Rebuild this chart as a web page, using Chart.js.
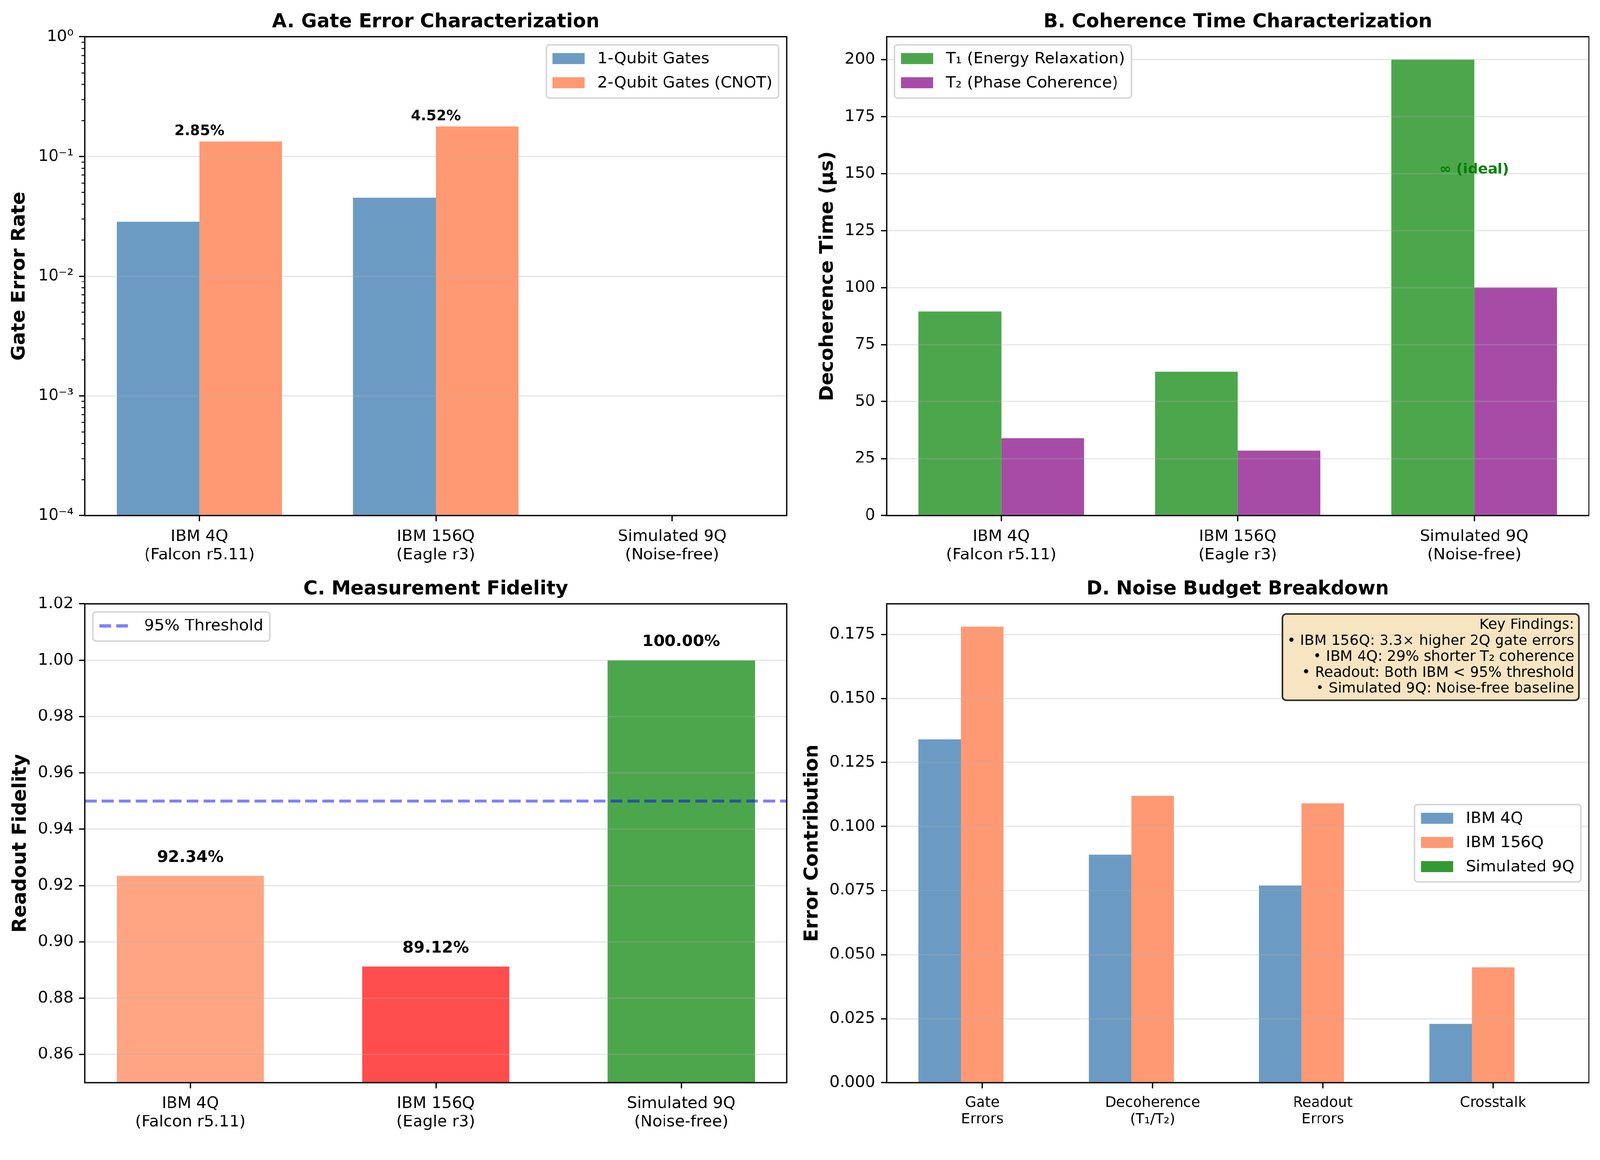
<!DOCTYPE html>
<html>
<head>
<meta charset="utf-8">
<script src="https://cdn.jsdelivr.net/npm/chart.js@4.4.1/dist/chart.umd.min.js"></script>
<style>
html, body { margin: 0; padding: 0; background: #fff; overflow: hidden; }
#fig { position: absolute; left: 0; top: 0; width: 4167px; height: 2970px; background: #fff; overflow: hidden; transform-origin: 0 0; }
.cell { position: absolute; }
canvas { display: block; }
</style>
</head>
<body>
<div id="fig">
  <div class="cell" style="left:0px;top:0px;width:2083px;height:1477px"><canvas id="cA" width="2083" height="1477" style="width:2083px;height:1477px"></canvas></div>
  <div class="cell" style="left:2083px;top:0px;width:2084px;height:1477px"><canvas id="cB" width="2084" height="1477" style="width:2084px;height:1477px"></canvas></div>
  <div class="cell" style="left:0px;top:1477px;width:2083px;height:1477px"><canvas id="cC" width="2083" height="1477" style="width:2083px;height:1477px"></canvas></div>
  <div class="cell" style="left:2083px;top:1477px;width:2084px;height:1477px"><canvas id="cD" width="2084" height="1477" style="width:2084px;height:1477px"></canvas></div>
</div>
<script>
// ---------------- DATA ----------------
const devices = [['IBM 4Q', '(Falcon r5.11)'], ['IBM 156Q', '(Eagle r3)'], ['Simulated 9Q', '(Noise-free)']];

const gate1Q = [0.0285, 0.0452, 0];
const gate2Q = [0.134, 0.178, 0];
const gateTicks = [1e-4, 1e-3, 1e-2, 1e-1, 1];
const gateTickLabels = ['10⁻⁴', '10⁻³', '10⁻²', '10⁻¹', '10⁰'];

const t1Times = [89.5, 63.2, 200];
const t2Times = [34.0, 28.5, 100];
const coherenceTicks = [0, 25, 50, 75, 100, 125, 150, 175, 200];
const idealLabel = '∞ (ideal)';
const idealLabelValue = 150;

const readoutFidelity = [0.9234, 0.8912, 1.0];
const readoutThreshold = 0.95;
const fidelityTicks = [0.86, 0.88, 0.90, 0.92, 0.94, 0.96, 0.98, 1.00, 1.02];

const noiseCategories = [['Gate', 'Errors'], ['Decoherence', '(T₁/T₂)'], ['Readout', 'Errors'], ['Crosstalk']];
const noiseIBM4Q = [0.134, 0.089, 0.077, 0.023];
const noiseIBM156Q = [0.178, 0.112, 0.109, 0.045];
const noiseSim9Q = [0, 0, 0, 0];
const noiseTicks = [0, 0.025, 0.05, 0.075, 0.1, 0.125, 0.15, 0.175];

const keyFindings = [
  'Key Findings:',
  '• IBM 156Q: 3.3× higher 2Q gate errors',
  '• IBM 4Q: 29% shorter T₂ coherence',
  '• Readout: Both IBM < 95% threshold',
  '• Simulated 9Q: Noise-free baseline'
];

// ---------------- FIT FIGURE TO VIEWPORT ----------------
(function fitFigure() {
  const s = Math.min(window.innerWidth / 4167, window.innerHeight / 2970, 1);
  if (s < 0.999) document.getElementById('fig').style.transform = 'scale(' + s + ')';
})();

// ---------------- STYLE ----------------
const FONT = "'DejaVu Sans', 'Liberation Sans', sans-serif";
const PT = 300 / 72;
const F12 = 12 * PT, F10 = 10 * PT, F9 = 9 * PT;
const LW = 0.8 * PT;
const GRID = 'rgba(176,176,176,0.3)';
Chart.defaults.font.family = FONT;
Chart.defaults.color = '#000';

const toXY = arr => arr.map((v, i) => ({ x: i, y: v }));

function xAxis(labels, min, max, fontSize) {
  return {
    type: 'linear', position: 'bottom', min: min, max: max, offset: false,
    afterBuildTicks: s => { s.ticks = labels.map((_, i) => ({ value: i })); },
    afterFit: s => { s.height = 134; },
    ticks: { callback: (v, i) => labels[i], font: { size: fontSize, lineHeight: 1.15 }, padding: 17,
             maxRotation: 0, minRotation: 0, autoSkip: false, color: '#000' },
    grid: { display: true, offset: false, drawOnChartArea: false, drawTicks: true, tickLength: 3.5 * PT,
            tickColor: '#000', tickWidth: LW, color: 'rgba(0,0,0,0)' },
    border: { display: false }
  };
}

function yAxis(type, min, max, tickVals, fmt, width, title, titleMid) {
  return {
    type: type, position: 'left', min: min, max: max, beginAtZero: false,
    afterBuildTicks: s => { s.ticks = tickVals.map(v => ({ value: v })); },
    afterFit: s => { s.width = width; },
    ticks: { callback: (v, i) => fmt(v, i), font: { size: F10 }, padding: 15, color: '#000', autoSkip: false },
    grid: { color: GRID, lineWidth: LW, z: 1, drawTicks: true, tickLength: 3.5 * PT, tickColor: '#000', tickWidth: LW },
    border: { display: false },
    title: { display: true, text: title, color: '#000',
             font: { size: F12, weight: 'bold', lineHeight: 1.2 },
             padding: { top: titleMid - F12 * 0.6, bottom: 0 } }
  };
}

function drawLegend(chart, items, loc) {
  const ctx = chart.ctx, a = chart.chartArea, fs = F10;
  const pad = 0.4 * fs, hl = 2 * fs, htp = 0.8 * fs, ls = 0.5 * fs, bap = 0.5 * fs, rowH = 42;
  ctx.save();
  ctx.font = fs + 'px ' + FONT;
  const tw = Math.max.apply(null, items.map(it => ctx.measureText(it.label).width));
  const w = pad * 2 + hl + htp + tw;
  const h = pad * 2 + items.length * rowH + (items.length - 1) * ls;
  let x, y;
  if (loc === 'upper right') { x = a.right - bap - w; y = a.top + bap; }
  else if (loc === 'upper left') { x = a.left + bap; y = a.top + bap; }
  else { x = a.right - bap - w; y = (a.top + a.bottom) / 2 - h / 2; }
  ctx.beginPath();
  ctx.roundRect(x, y, w, h, 0.2 * fs);
  ctx.fillStyle = 'rgba(255,255,255,0.8)';
  ctx.fill();
  ctx.lineWidth = 4;
  ctx.strokeStyle = 'rgba(204,204,204,0.8)';
  ctx.stroke();
  items.forEach((it, i) => {
    const cy = y + pad + i * (rowH + ls) + rowH / 2;
    const hx = x + pad;
    if (it.kind === 'dash') {
      ctx.save();
      ctx.strokeStyle = it.color; ctx.lineWidth = it.width; ctx.setLineDash(it.dash); ctx.lineCap = 'butt';
      ctx.beginPath(); ctx.moveTo(hx, cy - 1); ctx.lineTo(hx + hl, cy - 1); ctx.stroke();
      ctx.restore();
    } else {
      ctx.fillStyle = it.color;
      ctx.fillRect(hx, cy - 0.35 * fs - 2, hl, 0.7 * fs);
    }
    ctx.fillStyle = '#000'; ctx.textAlign = 'left'; ctx.textBaseline = 'middle';
    ctx.fillText(it.label, hx + hl + htp, cy);
  });
  ctx.restore();
}

const datasetLegend = chart => chart.data.datasets.map(d => ({ label: d.label, color: d.backgroundColor, kind: 'box' }));

function mplPlugin(cfg) {
  return {
    id: 'mpl' + cfg.key,
    afterDraw(chart) {
      const ctx = chart.ctx, a = chart.chartArea;
      ctx.save();
      if (cfg.extra) cfg.extra(chart, ctx, a);
      ctx.setLineDash([]);
      ctx.lineWidth = LW; ctx.strokeStyle = '#000';
      ctx.strokeRect(a.left, a.top, a.right - a.left, a.bottom - a.top);
      ctx.fillStyle = '#000';
      ctx.font = 'bold ' + F12 + 'px ' + FONT;
      ctx.textAlign = 'center'; ctx.textBaseline = 'alphabetic';
      ctx.fillText(cfg.title, (a.left + a.right) / 2, a.top - 6 * PT);
      if (cfg.legend) drawLegend(chart, cfg.legend(chart), cfg.legendLoc);
      if (cfg.after) cfg.after(chart, ctx, a);
      ctx.restore();
    }
  };
}

function baseOptions(rightPad, scales) {
  return {
    responsive: false, maintainAspectRatio: false, animation: false, devicePixelRatio: 1,
    events: [],
    layout: { padding: { top: 96, right: rightPad, bottom: 0, left: 0 } },
    plugins: { legend: { display: false }, title: { display: false }, tooltip: { enabled: false } },
    scales: scales
  };
}

const barDefaults = { borderWidth: 0, barPercentage: 1.0, grouped: true };

// ---------------- PANEL A ----------------
new Chart(document.getElementById('cA'), {
  type: 'bar',
  data: { datasets: [
    Object.assign({ label: '1-Qubit Gates', data: toXY(gate1Q), backgroundColor: 'rgba(70,130,180,0.8)', categoryPercentage: 0.7 }, barDefaults),
    Object.assign({ label: '2-Qubit Gates (CNOT)', data: toXY(gate2Q), backgroundColor: 'rgba(255,127,80,0.8)', categoryPercentage: 0.7 }, barDefaults)
  ] },
  options: baseOptions(34, {
    x: xAxis(devices, -0.485, 2.485, F10),
    y: yAxis('logarithmic', 1e-4, 1, gateTicks, (v, i) => gateTickLabels[i], 221, 'Gate Error Rate', 50.7)
  }),
  plugins: [mplPlugin({
    key: 'A', title: 'A. Gate Error Characterization', legend: datasetLegend, legendLoc: 'upper right',
    extra: (chart, ctx, a) => {
      const ys = chart.scales.y, xs = chart.scales.x;
      ctx.strokeStyle = '#000'; ctx.lineWidth = 0.6 * PT;
      for (let e = -4; e < 0; e++) {
        for (let k = 2; k <= 9; k++) {
          const y = ys.getPixelForValue(k * Math.pow(10, e));
          ctx.beginPath(); ctx.moveTo(a.left, y); ctx.lineTo(a.left - 2 * PT, y); ctx.stroke();
        }
      }
      ctx.fillStyle = '#000'; ctx.font = 'bold ' + F9 + 'px ' + FONT;
      ctx.textAlign = 'center'; ctx.textBaseline = 'alphabetic';
      gate1Q.forEach((v, i) => {
        if (v > 0) ctx.fillText((v * 100).toFixed(2) + '%', xs.getPixelForValue(i), ys.getPixelForValue(gate2Q[i] * 1.13));
      });
    }
  })]
});

// ---------------- PANEL B ----------------
new Chart(document.getElementById('cB'), {
  type: 'bar',
  data: { datasets: [
    Object.assign({ label: 'T₁ (Energy Relaxation)', data: toXY(t1Times), backgroundColor: 'rgba(0,128,0,0.7)', categoryPercentage: 0.7 }, barDefaults),
    Object.assign({ label: 'T₂ (Phase Coherence)', data: toXY(t2Times), backgroundColor: 'rgba(128,0,128,0.7)', categoryPercentage: 0.7 }, barDefaults)
  ] },
  options: baseOptions(29, {
    x: xAxis(devices, -0.485, 2.485, F10),
    y: yAxis('linear', 0, 210, coherenceTicks, v => String(v), 226, 'Decoherence Time (μs)', 73.2)
  }),
  plugins: [mplPlugin({
    key: 'B', title: 'B. Coherence Time Characterization', legend: datasetLegend, legendLoc: 'upper left',
    after: (chart, ctx, a) => {
      const ys = chart.scales.y, xs = chart.scales.x;
      ctx.fillStyle = '#008000'; ctx.font = 'bold ' + F9 + 'px ' + FONT;
      ctx.textAlign = 'center'; ctx.textBaseline = 'alphabetic';
      ctx.fillText(idealLabel, xs.getPixelForValue(2), ys.getPixelForValue(idealLabelValue));
    }
  })]
});

// ---------------- PANEL C ----------------
const thresholdStyle = { color: 'rgba(0,0,255,0.5)', width: 2 * PT, dash: [7.4 * PT, 3.2 * PT] };
new Chart(document.getElementById('cC'), {
  type: 'bar',
  data: { datasets: [
    Object.assign({ label: 'Readout Fidelity', data: toXY(readoutFidelity),
      backgroundColor: ['rgba(255,127,80,0.7)', 'rgba(255,0,0,0.7)', 'rgba(0,128,0,0.7)'], categoryPercentage: 0.6 }, barDefaults)
  ] },
  options: baseOptions(34, {
    x: xAxis(devices, -0.43, 2.43, F10),
    y: yAxis('linear', 0.85, 1.02, fidelityTicks, v => v.toFixed(2), 221, 'Readout Fidelity', 54.2)
  }),
  plugins: [mplPlugin({
    key: 'C', title: 'C. Measurement Fidelity',
    legend: () => [{ label: '95% Threshold', kind: 'dash', color: thresholdStyle.color, width: thresholdStyle.width, dash: thresholdStyle.dash }],
    legendLoc: 'upper left',
    extra: (chart, ctx, a) => {
      const ys = chart.scales.y, xs = chart.scales.x;
      const y = ys.getPixelForValue(readoutThreshold);
      ctx.save();
      ctx.strokeStyle = thresholdStyle.color; ctx.lineWidth = thresholdStyle.width;
      ctx.setLineDash(thresholdStyle.dash); ctx.lineCap = 'butt';
      ctx.beginPath(); ctx.moveTo(a.left, y); ctx.lineTo(a.right, y); ctx.stroke();
      ctx.restore();
      ctx.fillStyle = '#000'; ctx.font = 'bold ' + F10 + 'px ' + FONT;
      ctx.textAlign = 'center'; ctx.textBaseline = 'alphabetic';
      readoutFidelity.forEach((v, i) => {
        ctx.fillText((v * 100).toFixed(2) + '%', xs.getPixelForValue(i), ys.getPixelForValue(v + 0.005));
      });
    }
  })]
});

// ---------------- PANEL D ----------------
new Chart(document.getElementById('cD'), {
  type: 'bar',
  data: { datasets: [
    Object.assign({ label: 'IBM 4Q', data: toXY(noiseIBM4Q), backgroundColor: 'rgba(70,130,180,0.8)', categoryPercentage: 0.75 }, barDefaults),
    Object.assign({ label: 'IBM 156Q', data: toXY(noiseIBM156Q), backgroundColor: 'rgba(255,127,80,0.8)', categoryPercentage: 0.75 }, barDefaults),
    Object.assign({ label: 'Simulated 9Q', data: toXY(noiseSim9Q), backgroundColor: 'rgba(0,128,0,0.8)', categoryPercentage: 0.75 }, barDefaults)
  ] },
  options: baseOptions(29, {
    x: xAxis(noiseCategories, -0.5625, 3.5625, F9),
    y: yAxis('linear', 0, 0.1869, noiseTicks, v => v.toFixed(3), 226, 'Error Contribution', 32.7)
  }),
  plugins: [mplPlugin({
    key: 'D', title: 'D. Noise Budget Breakdown', legend: datasetLegend, legendLoc: 'center right',
    after: (chart, ctx, a) => {
      ctx.font = F9 + 'px ' + FONT;
      const tw = Math.max.apply(null, keyFindings.map(s => ctx.measureText(s).width));
      const lh = 41.5;
      const bw = tw + 24, bh = 59 + (keyFindings.length - 1) * lh;
      const bx = a.right - 26 - bw, by = a.top + 26;
      ctx.beginPath(); ctx.roundRect(bx, by, bw, bh, 10);
      ctx.fillStyle = 'rgba(245,222,179,0.8)'; ctx.fill();
      ctx.strokeStyle = 'rgba(0,0,0,0.8)'; ctx.lineWidth = 1 * PT; ctx.stroke();
      ctx.fillStyle = '#000'; ctx.textAlign = 'right'; ctx.textBaseline = 'middle';
      keyFindings.forEach((s, i) => ctx.fillText(s, bx + bw - 12, by + 29.5 + i * lh));
    }
  })]
});
</script>
</body>
</html>
